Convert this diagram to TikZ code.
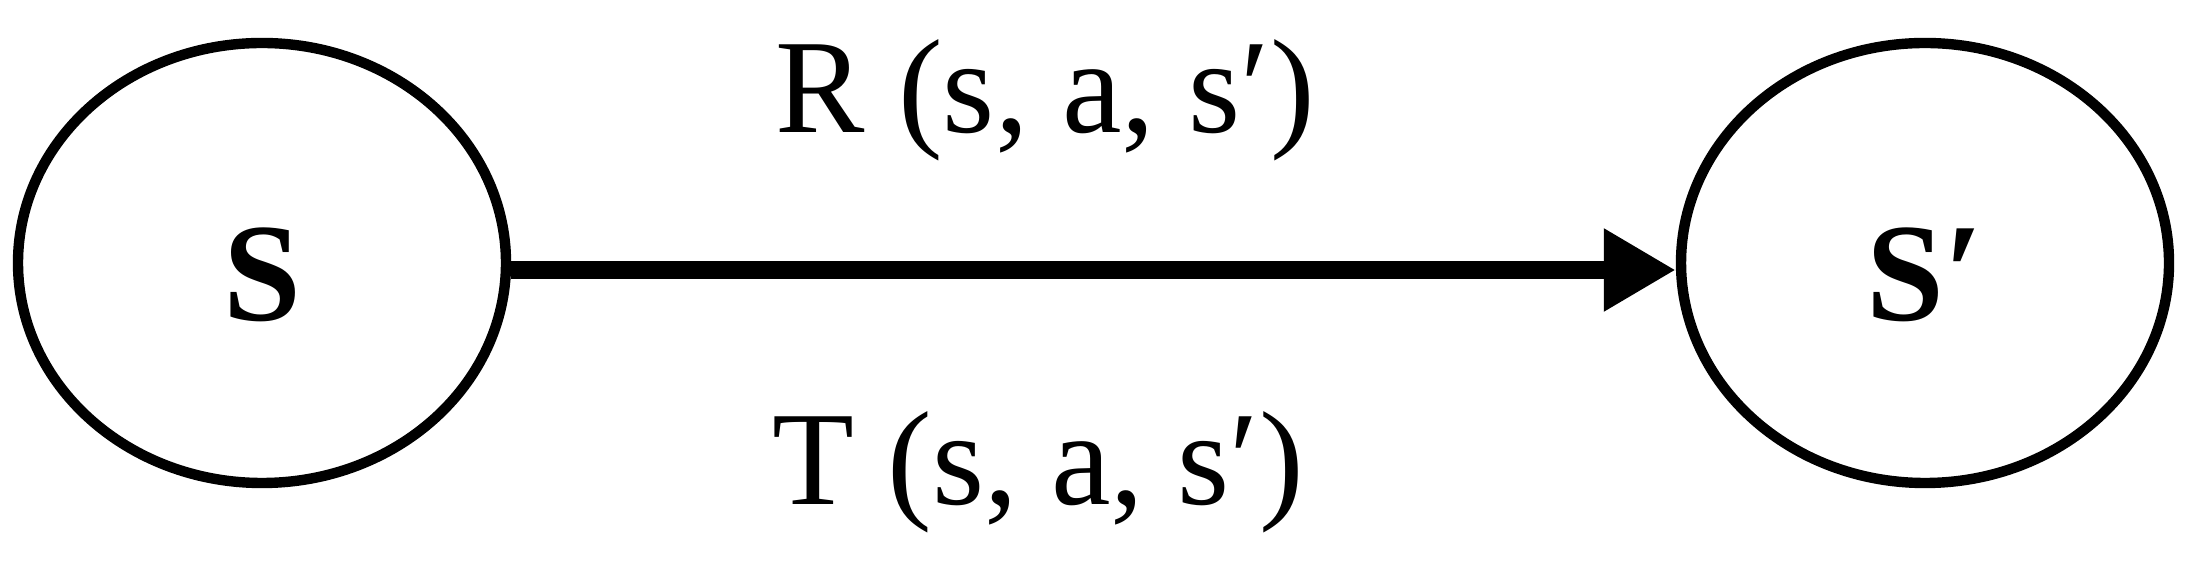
\documentclass[tikz,border=0pt]{standalone}
\usepackage{fontspec}
\setmainfont{Liberation Serif}
\usetikzlibrary{shapes.geometric,arrows.meta}
\begin{document}
\begin{tikzpicture}[x=0.25pt,y=-0.25pt,
  state/.style={draw=black,ellipse,line width=2.6pt,minimum width=122pt,minimum height=110pt,inner sep=0pt,
    font=\fontsize{35}{40}\selectfont\bfseries,text height=29pt,text depth=0pt},
  edgelabel/.style={anchor=base,inner sep=0pt,font=\fontsize{33.5}{38}\selectfont},
  conn/.style={line width=4.5pt,-{Triangle[length=18pt,width=19.5pt]}}]
\useasboundingbox (0,0) rectangle (2193,564);
\node[state] (s) at (262,263) {S};
\node[state] (t) at (1925,263) {S′};
\draw[conn] ([yshift=-1.75pt]s.east) -- ([yshift=-1.75pt]t.west);
\node[edgelabel] (r) at (1045,133) {R (s, a, s′)};
\node[edgelabel] (tr) at (1038,505) {T (s, a, s′)};
\end{tikzpicture}
\end{document}
